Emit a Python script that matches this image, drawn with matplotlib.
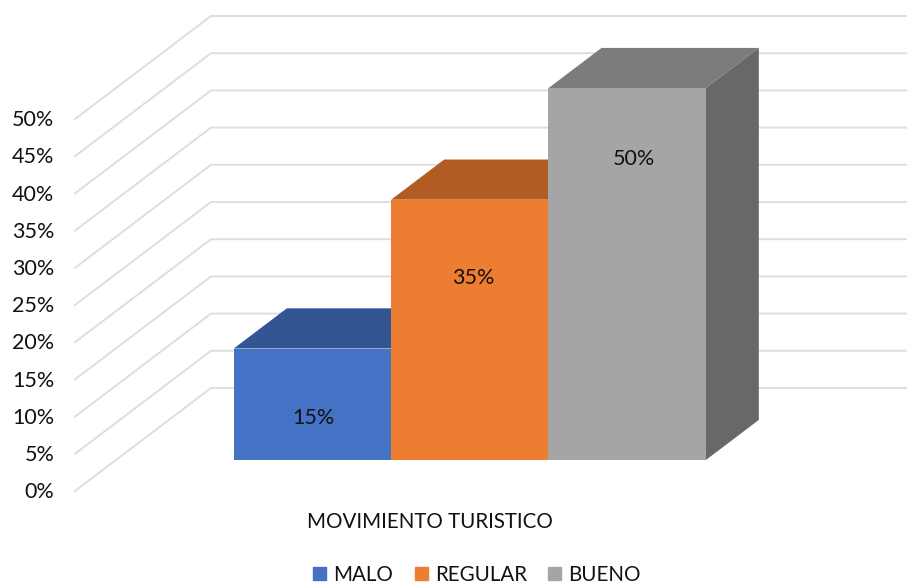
import matplotlib
matplotlib.use('agg')
import matplotlib.pyplot as plt
from matplotlib.patches import Patch

plt.rcParams['font.family'] = ['Lato', 'DejaVu Sans']

categories = ['MALO', 'REGULAR', 'BUENO']
values = [15, 35, 50]
ticks = [0, 5, 10, 15, 20, 25, 30, 35, 40, 45, 50]
axis_title = 'MOVIMIENTO TURISTICO'

front_colors = ['#4472C4', '#ED7D31', '#A5A5A5']
top_colors = ['#335593', '#B25B22', '#7C7C7C']
side_color = '#686868'
grid_color = '#DEDEDE'
text_color = '#111111'

W, H = 907, 586
x_unit = 157.33   # px for one bar width
y_unit = 7.44     # px for one percent
x_zero = 193      # px of bar 0 on the front plane
y_zero = 491      # px of 0% on the front plane

# depth of the box, in data units
DX = 136 / x_unit
DY = 103 / y_unit
# bars only fill part of the depth
d0 = 0.30
d1 = 0.69


def proj(x, v, d):
    return x + d * DX, v + d * DY


fig = plt.figure(figsize=(W / 100, H / 100), dpi=100)
ax = fig.add_axes([0, 0, 1, 1])
ax.set_xlim(-x_zero / x_unit, (W - x_zero) / x_unit)
ax.set_ylim(-(H - y_zero) / y_unit, y_zero / y_unit)
ax.axis('off')

x_left = -118 / x_unit
x_right = ax.get_xlim()[1]
for t in ticks:
    xa, ya = proj(x_left, t, 0)
    xb, yb = proj(x_left, t, 1)
    ax.plot([xa, xb, x_right], [ya, yb, yb], color=grid_color, lw=1.4, zorder=1,
            solid_joinstyle='miter')
    ax.text(-138.5 / x_unit, t - 0.15, str(t) + '%', ha='right', va='center', fontsize=15.5,
            color=text_color)

for i in range(len(values)):
    v = values[i]
    front = [proj(i, 0, d0), proj(i + 1, 0, d0), proj(i + 1, v, d0), proj(i, v, d0)]
    top = [proj(i, v, d0), proj(i + 1, v, d0), proj(i + 1, v, d1), proj(i, v, d1)]
    ax.fill(*zip(*top), color=top_colors[i], lw=0, zorder=2)
    ax.fill(*zip(*front), color=front_colors[i], lw=0, zorder=3)

# only the last bar shows its side
n = len(values)
side = [proj(n, 0, d0), proj(n, 0, d1), proj(n, values[-1], d1), proj(n, values[-1], d0)]
ax.fill(*zip(*side), color=side_color, lw=0, zorder=2)

label_x = [313, 473, 634]
label_y = [418, 278, 159]
for i in range(len(values)):
    ax.text((label_x[i] - x_zero) / x_unit, (y_zero - label_y[i]) / y_unit, str(values[i]) + '%',
            ha='center', va='center', fontsize=15.5, color=text_color, zorder=5)

ax.text((430 - x_zero) / x_unit, (y_zero - 522) / y_unit, axis_title, ha='center', va='center',
        fontsize=14.8, color=text_color)

handles = [Patch(color=front_colors[i], label=categories[i]) for i in range(3)]
fig.legend(handles=handles, loc='lower center', bbox_to_anchor=(477 / W, -9 / H), ncol=3,
           frameon=False, fontsize=14.8, handlelength=0.63, handleheight=0.63,
           handletextpad=0.35, columnspacing=1.05, borderpad=0, labelcolor=text_color)

fig.savefig('out.png', dpi=100)
